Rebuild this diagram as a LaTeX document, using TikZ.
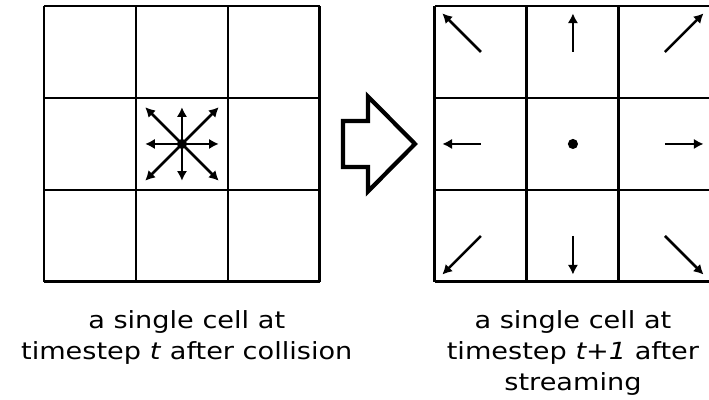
\documentclass[tikz,border=0pt]{standalone}
\usepackage{fontspec}
\setmainfont[FakeStretch=1.15]{DejaVu Sans}
\usetikzlibrary{arrows.meta}

\tikzset{
  gridline/.style={line width=0.9pt},
  velo/.style={line width=0.8pt, -{Latex[length=3pt,width=3.2pt]}},
  bigarrow/.style={line width=1.3pt, line join=miter},
  caption/.style={align=center, anchor=north, inner sep=0pt,
    font=\fontsize{7.3}{9.5}\selectfont},
}

\begin{document}
\begin{tikzpicture}
    \useasboundingbox (0,0) rectangle (7.707,4.348);

    % Ô lưới trái: sau va chạm
    \begin{scope}[shift={(0.478,1.283)}]
        \draw[gridline] (0,0) grid (3,3);
        \fill (1.5,1.5) circle (0.055);
        \foreach \dx/\dy in {1/0,1/1,0/1,-1/1,-1/0,-1/-1,0/-1,1/-1}
            \draw[velo] (1.5,1.5) -- ++(0.4*\dx,0.4*\dy);
    \end{scope}

    % Mũi tên rỗng
    \draw[bigarrow] (3.728,2.533) -- (4.0,2.533) -- (4.0,2.267)
        -- (4.511,2.783) -- (4.0,3.299) -- (4.0,3.033) -- (3.728,3.033) -- cycle;

    % Ô lưới phải: sau lan truyền
    \begin{scope}[shift={(4.728,1.283)}]
        \draw[gridline] (0,0) grid (3,3);
        \fill (1.5,1.5) circle (0.055);
        \foreach \dx/\dy in {1/0,1/1,0/1,-1/1,-1/0,-1/-1,0/-1,1/-1}
            \draw[velo] ({1.5+\dx},{1.5+\dy}) -- ++(0.42*\dx,0.42*\dy);
    \end{scope}

    % Chú thích
    \node[caption] (capL) at (2.03,0.975)
        {a single cell at\\timestep \textit{t} after collision};
    \node[caption] (capR) at (6.228,0.975)
        {a single cell at\\timestep \textit{t+1} after\\streaming};
\end{tikzpicture}
\end{document}
